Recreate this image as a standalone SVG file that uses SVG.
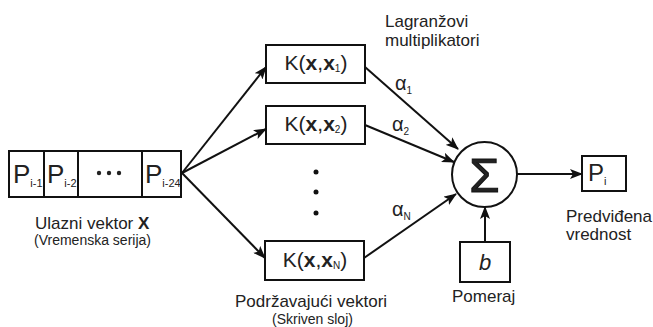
<svg xmlns="http://www.w3.org/2000/svg" width="653" height="327" viewBox="0 0 653 327">
  <style>
    .box { fill: #fff; stroke: #111; stroke-width: 2; }
    .wire { fill: none; stroke: #111; stroke-width: 2; }
    text { font-family: "Liberation Sans", Arial, sans-serif; fill: #222; }
    .lbl { font-size: 17px; }
    .sub { font-size: 14px; }
    .k { font-size: 21px; }
    .p { font-size: 26px; }
    .alpha { font-size: 20px; }
    .idx { font-size: 11px; }
    .kidx { font-size: 10px; }
  </style>
  <defs>
    <marker id="arrow" viewBox="0 0 13 10" refX="12" refY="5" markerWidth="13" markerHeight="10" markerUnits="userSpaceOnUse" orient="auto">
      <path d="M0,0 L13,5 L0,10 L3,5 Z" fill="#111"/>
    </marker>
  </defs>

  <!-- input vector -->
  <g id="input">
    <rect class="box" x="9" y="151" width="172" height="46"/>
    <line class="wire" x1="44" y1="151" x2="44" y2="197"/>
    <line class="wire" x1="78" y1="151" x2="78" y2="197"/>
    <line class="wire" x1="142" y1="151" x2="142" y2="197"/>
    <text class="p" x="13" y="183">P<tspan class="idx" dy="4">i-1</tspan></text>
    <text class="p" x="47" y="183">P<tspan class="idx" dy="4">i-2</tspan></text>
    <circle cx="99" cy="173" r="2.2" fill="#222"/>
    <circle cx="109" cy="173" r="2.2" fill="#222"/>
    <circle cx="119" cy="173" r="2.2" fill="#222"/>
    <text class="p" x="145" y="183">P<tspan class="idx" dy="4">i-24</tspan></text>
    <text class="lbl" x="35" y="229">Ulazni vektor <tspan font-weight="bold">X</tspan></text>
    <text class="sub" x="34" y="245">(Vremenska serija)</text>
  </g>

  <!-- kernel nodes -->
  <g id="k1">
    <rect class="box" x="266" y="45" width="99" height="38"/>
    <text class="k" x="316" y="70" text-anchor="middle">K(<tspan font-weight="bold">x</tspan>,<tspan font-weight="bold">x</tspan><tspan class="kidx" dy="2">1</tspan><tspan dy="-2">)</tspan></text>
  </g>
  <g id="k2">
    <rect class="box" x="266" y="106" width="99" height="38"/>
    <text class="k" x="316" y="131" text-anchor="middle">K(<tspan font-weight="bold">x</tspan>,<tspan font-weight="bold">x</tspan><tspan class="kidx" dy="2">2</tspan><tspan dy="-2">)</tspan></text>
  </g>
  <g id="kdots">
    <circle cx="316" cy="172" r="2.5" fill="#111"/>
    <circle cx="316" cy="192" r="2.5" fill="#111"/>
    <circle cx="316" cy="213" r="2.5" fill="#111"/>
  </g>
  <g id="kN">
    <rect class="box" x="265" y="241" width="99" height="39"/>
    <text class="k" x="315" y="267" text-anchor="middle">K(<tspan font-weight="bold">x</tspan>,<tspan font-weight="bold">x</tspan><tspan class="kidx" dy="2">N</tspan><tspan dy="-2">)</tspan></text>
    <text class="lbl" x="235" y="307">Podržavajući vektori</text>
    <text class="sub" x="272" y="324">(Skriven sloj)</text>
  </g>

  <!-- summation node -->
  <g id="sum">
    <circle cx="484.5" cy="174.5" r="32.5" fill="#fff" stroke="#111" stroke-width="2"/>
    <text x="484.5" y="192" text-anchor="middle" font-size="49" fill="#111" stroke="#111" stroke-width="1">Σ</text>
  </g>

  <!-- bias -->
  <g id="bias">
    <rect class="box" x="460" y="242" width="50" height="40"/>
    <text x="485" y="270" text-anchor="middle" font-size="22" font-style="italic">b</text>
    <text class="lbl" x="452" y="302">Pomeraj</text>
  </g>

  <!-- output -->
  <g id="output">
    <rect class="box" x="582" y="156" width="44" height="35"/>
    <text x="588" y="181" font-size="24">P<tspan class="idx" dy="4">i</tspan></text>
    <text class="lbl" x="566" y="222">Predviđena</text>
    <text class="lbl" x="566" y="240">vrednost</text>
  </g>

  <g id="multipliers">
    <text class="lbl" x="385" y="27">Lagranžovi</text>
    <text class="lbl" x="385" y="46">multiplikatori</text>
    <text class="alpha" x="395" y="90">α<tspan class="kidx" dy="4">1</tspan></text>
    <text class="alpha" x="392" y="131">α<tspan class="kidx" dy="4">2</tspan></text>
    <text class="alpha" x="392" y="216">α<tspan class="kidx" dy="4">N</tspan></text>
  </g>

  <!-- connectors -->
  <g id="connectors">
    <line class="wire" x1="182" y1="173" x2="266" y2="67" marker-end="url(#arrow)"/>
    <line class="wire" x1="182" y1="173" x2="266" y2="129" marker-end="url(#arrow)"/>
    <line class="wire" x1="182" y1="173" x2="265" y2="258" marker-end="url(#arrow)"/>
    <line class="wire" x1="365" y1="67" x2="458" y2="149" marker-end="url(#arrow)"/>
    <line class="wire" x1="365" y1="125" x2="454" y2="162" marker-end="url(#arrow)"/>
    <line class="wire" x1="364" y1="258" x2="456" y2="194" marker-end="url(#arrow)"/>
    <line class="wire" x1="517" y1="174" x2="582" y2="174" marker-end="url(#arrow)"/>
    <line class="wire" x1="485" y1="242" x2="485" y2="207" marker-end="url(#arrow)"/>
  </g>
</svg>
